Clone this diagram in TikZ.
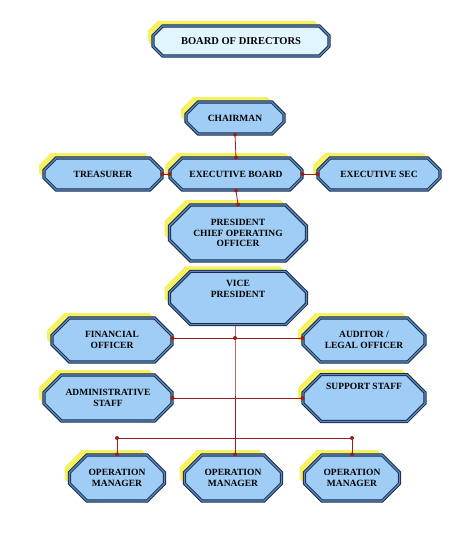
\documentclass[tikz,border=0pt]{standalone}
\usepackage{fontspec}
\setmainfont{Liberation Serif}
\usetikzlibrary{shapes.misc,shadows}
\definecolor{boxfill}{HTML}{9FCDF5}
\definecolor{navy}{HTML}{1A2A4A}
\definecolor{midb}{HTML}{5A8CC0}
\definecolor{shad}{HTML}{F7F060}
\definecolor{conn}{HTML}{9A1E1E}
\tikzset{
 box/.style={chamfered rectangle, chamfered rectangle xsep=9pt, chamfered rectangle ysep=9pt,
   fill=boxfill, draw=navy, line width=1pt, double=midb, double distance=1.2pt,
   font=\bfseries\fontsize{9.5}{10.5}\selectfont, align=center, inner sep=0pt,
   drop shadow={shadow xshift=-5pt, shadow yshift=5pt, fill=shad, opacity=1}},
 ln/.style={draw=conn, line width=0.8pt},
 dot/.style={circle, fill=conn, inner sep=0pt, minimum size=4pt}
}
\begin{document}
\begin{tikzpicture}[x=1pt,y=-1pt]
\useasboundingbox[fill=white] (0,0) rectangle (474,543);
\node[box, chamfered rectangle xsep=6pt, chamfered rectangle ysep=6pt, fill=cyan!12, minimum width=176pt, minimum height=30pt, font=\bfseries\fontsize{10.5}{12}\selectfont] (bod) at (241,41) {BOARD OF DIRECTORS};
\node[box, minimum width=98pt, minimum height=32pt] (ch) at (235,118) {CHAIRMAN};
\node[box, minimum width=118pt, minimum height=32pt] (tr) at (103,174) {TREASURER};
\node[box, minimum width=132pt, minimum height=32pt] (eb) at (236,174) {EXECUTIVE BOARD};
\node[box, minimum width=122pt, minimum height=32pt] (es) at (379,174) {EXECUTIVE SEC};
\node[box, minimum width=137pt, minimum height=56pt, chamfered rectangle xsep=12pt] (pr) at (238,233) {PRESIDENT\\CHIEF OPERATING\\OFFICER};
\node[box, minimum width=137pt, minimum height=46pt, chamfered rectangle xsep=12pt] (vp) at (238,298) {VICE\\PRESIDENT\\[8pt]};
\node[box, minimum width=120pt, minimum height=44pt] (fo) at (112,340) {FINANCIAL\\OFFICER};
\node[box, minimum width=122pt, minimum height=44pt] (au) at (364,340) {AUDITOR /\\LEGAL OFFICER};
\node[box, minimum width=128pt, minimum height=46pt] (as) at (108,398) {ADMINISTRATIVE\\STAFF};
\node[box, minimum width=122pt, minimum height=46pt] (ss) at (364,398) {SUPPORT STAFF\\[12pt]};
\node[box, minimum width=95pt, minimum height=46pt] (om1) at (117,478) {OPERATION\\MANAGER};
\node[box, minimum width=97pt, minimum height=46pt] (om2) at (233,478) {OPERATION\\MANAGER};
\node[box, minimum width=95pt, minimum height=46pt] (om3) at (352,478) {OPERATION\\MANAGER};
% connectors
\draw[ln] (ch.south) -- (eb.north);
\draw[ln] (tr.east) -- (eb.west);
\draw[ln] (eb.east) -- (es.west);
\draw[ln] (eb.south) -- (pr.north);
\coordinate (j1) at (235,338);
\coordinate (j2) at (235,438);
\coordinate (l3) at (117,438);
\coordinate (r3) at (352,438);
\draw[ln] (vp.south -| j1) -- (j1) -- (om2.north -| j1);
\draw[ln] (fo.east |- j1) -- (au.west |- j1);
\draw[ln] (as.east) -- (ss.west |- as.east);
\draw[ln] (l3) -- (r3);
\draw[ln] (l3) -- (om1.north);
\draw[ln] (r3) -- (om3.north);
\foreach \p in {ch.south, eb.north, tr.east, eb.west, eb.east, es.west, eb.south, pr.north, j1, l3, r3, om1.north, om3.north, as.east}
  \node[dot] at (\p) {};
\node[dot] at (fo.east |- j1) {};
\node[dot] at (au.west |- j1) {};
\node[dot] at (ss.west |- as.east) {};
\node[dot] at (om2.north -| j1) {};
\end{tikzpicture}
\end{document}
